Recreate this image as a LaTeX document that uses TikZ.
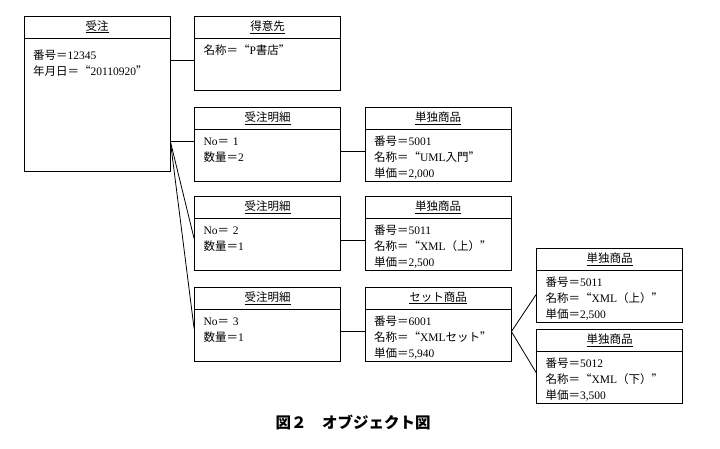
\documentclass[tikz,border=0pt]{standalone}
\usepackage{fontspec}
\setmainfont{Liberation Serif}
\newfontfamily\jp[RawFeature=+fwid]{Noto Sans CJK JP}
\usetikzlibrary{positioning}

\begin{document}
\begin{tikzpicture}[x=1pt,y=-1pt,on grid,node distance=170.5pt,
        head/.style={draw,line width=0.8pt,minimum width=146pt,minimum height=22pt,inner sep=0pt,
          font=\fontsize{11.5}{14}\selectfont\jp},
        body/.style={draw,line width=0.8pt,anchor=north,minimum width=146pt,text width=128pt,
          inner xsep=9pt,inner ysep=0pt,align=left,text height=15.5pt,text depth=36pt,
          font=\fontsize{11.5}{16}\selectfont},
        link/.style={line width=0.8pt}]
    \useasboundingbox (0,0) rectangle (720,449);

      \node[head] (ju_h) at (97,27) {\underline{受注}};
      \node[body,text height=20.5pt,text depth=112.5pt] (ju_b) at (ju_h.south)
        {{\jp 番号＝}12345\\{\jp 年月日＝“}20110920{\jp ”}};
      \node[head] (tk_h) [right=of ju_h] {\underline{得意先}};
      \node[body] (tk_b) at (tk_h.south) {{\jp 名称＝“}P{\jp 書店”}};

      \node[head] (m1_h) [below=91pt of tk_h] {\underline{受注明細}};
      \node[body] (m1_b) at (m1_h.south) {No{\jp ＝} 1\\{\jp 数量＝}2};
      \node[head] (s1_h) [right=of m1_h] {\underline{単独商品}};
      \node[body] (s1_b) at (s1_h.south) {{\jp 番号＝}5001\\{\jp 名称＝“}UML{\jp 入門”}\\{\jp 単価＝}2,000};

      \node[head] (m2_h) [below=89pt of m1_h] {\underline{受注明細}};
      \node[body] (m2_b) at (m2_h.south) {No{\jp ＝} 2\\{\jp 数量＝}1};
      \node[head] (s2_h) [right=of m2_h] {\underline{単独商品}};
      \node[body] (s2_b) at (s2_h.south) {{\jp 番号＝}5011\\{\jp 名称＝“}XML{\jp （上）”}\\{\jp 単価＝}2,500};

      \node[head] (m3_h) [below=91pt of m2_h] {\underline{受注明細}};
      \node[body] (m3_b) at (m3_h.south) {No{\jp ＝} 3\\{\jp 数量＝}1};
      \node[head] (st_h) [right=of m3_h] {\underline{セット商品}};
      \node[body] (st_b) at (st_h.south) {{\jp 番号＝}6001\\{\jp 名称＝“}XML{\jp セット”}\\{\jp 単価＝}5,940};

      \node[head] (s3_h) [above right=39pt and 171.5pt of st_h] {\underline{単独商品}};
      \node[body] (s3_b) at (s3_h.south) {{\jp 番号＝}5011\\{\jp 名称＝“}XML{\jp （上）”}\\{\jp 単価＝}2,500};
      \node[head] (s4_h) [below right=42pt and 171.5pt of st_h] {\underline{単独商品}};
      \node[body] (s4_b) at (s4_h.south) {{\jp 番号＝}5012\\{\jp 名称＝“}XML{\jp （下）”}\\{\jp 単価＝}3,500};

      \node[font=\fontsize{15.5}{18}\selectfont\jp\bfseries] (cap) at (353,422) {図２　オブジェクト図};

      % links
      \coordinate (ju_o) at ([yshift=14pt]m1_b.west -| ju_b.east);
      \draw[link] ([yshift=4pt]tk_b.west) -- ([yshift=4pt]tk_b.west -| ju_b.east);
      \draw[link] (ju_o) -- ([yshift=14pt]m1_b.west);
      \draw[link] (ju_o) -- ([yshift=6pt]m2_b.west);
      \draw[link] (ju_o) -- ([yshift=7pt]m3_b.west);
      \draw[link] ([yshift=4pt]m1_b.east) -- ([yshift=4pt]s1_b.west);
      \draw[link] ([yshift=4pt]m2_b.east) -- ([yshift=4pt]s2_b.west);
      \draw[link] ([yshift=4pt]m3_b.east) -- ([yshift=4pt]st_b.west);
      \draw[link] ([yshift=4pt]st_b.east) -- ([yshift=2pt]s3_b.west);
      \draw[link] ([yshift=4pt]st_b.east) -- ([yshift=5pt]s4_b.west);
    \end{tikzpicture}
\end{document}
